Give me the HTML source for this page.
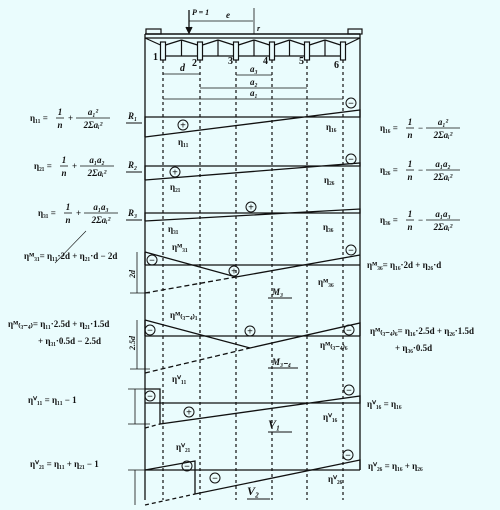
<!DOCTYPE html>
<html><head><meta charset="utf-8"><style>
html,body{margin:0;padding:0;background:#eafcfd;}
svg{display:block;font-family:"Liberation Serif",serif;font-weight:bold;}
</style></head><body>
<svg width="500" height="510" viewBox="0 0 500 510">
<rect width="500" height="510" fill="#eafcfd"/>
<g id="deck" stroke="#111" fill="none" stroke-width="1.2"></g>
<g id="main" stroke="#111" fill="none" stroke-width="1.3"></g>
<g id="txt" fill="#111" font-size="9"></g>
<script>
const girderX=[163,200,236,272,307,343];
const L=145,R=360;
const NS="http://www.w3.org/2000/svg";
const deck=document.getElementById('deck'),main=document.getElementById('main'),txt=document.getElementById('txt');
function el(p,tag,a){const e=document.createElementNS(NS,tag);for(const k in a)e.setAttribute(k,a[k]);p.appendChild(e);return e;}
function line(p,x1,y1,x2,y2,dash,w){const e=el(p,'line',{x1,y1,x2,y2});if(dash)e.setAttribute('stroke-dasharray',dash);if(w)e.setAttribute('stroke-width',w);return e;}
function poly(p,pts,dash){const e=el(p,'polyline',{points:pts.map(q=>q.join(',')).join(' ')});if(dash)e.setAttribute('stroke-dasharray',dash);return e;}
function t(x,y,s,size,anchor,style){const e=el(txt,'text',{x,y});e.textContent=s;if(size)e.setAttribute('font-size',size);if(anchor)e.setAttribute('text-anchor',anchor);if(style)e.setAttribute('font-style',style);return e;}
function frac(x,y,num,den,w){t(x+w/2,y-3,num,9,'middle','italic');line(main,x,y,x+w,y,null,0.8);t(x+w/2,y+10,den,9,'middle','italic');}
function formula(x,y,lhs,sign,num,den){t(x,y+3,lhs,9);const lw=lhs.length*5.2;frac(x+lw,y,'1','n',8);t(x+lw+12,y+3,sign,9);frac(x+lw+20,y,num,den,34);}
// deck
line(deck,L,34,R,34,null,1.6);
el(deck,'rect',{x:146,y:29,width:15,height:5});el(deck,'rect',{x:348,y:29,width:14,height:5});
line(deck,L,38,R,38);
for(let i=0;i<6;i++){const x=girderX[i];
 el(deck,'rect',{x:x-2.5,y:42,width:5,height:18,fill:'#eafcfd'});
 const lft=i==0?L:(girderX[i-1]+x)/2,rgt=i==5?R:(girderX[i+1]+x)/2;
 poly(deck,[[lft,i==0?38:40],[x-2.5,45]]);poly(deck,[[x+2.5,45],[rgt,i==5?38:40]]);
 if(i<5){line(deck,rgt,40,rgt,56);line(deck,x+2.5,56,girderX[i+1]-2.5,56);}
}
line(deck,L,34,L,500,null,1.3);line(deck,R,34,R,470,null,1.3);
[[153,60,'1'],[192,66,'2'],[228,64,'3'],[263,64,'4'],[299,64,'5'],[334,68,'6']].forEach(a=>t(a[0],a[1],a[2],10));
// load
line(main,189,10,189,31);el(main,'path',{d:'M186,27 L189,33 L192,27',fill:'#111'});
t(192,15,'P = 1',8,null,'italic');
line(main,189,21,253,21,null,0.8);line(main,254,8,254,34,null,0.8);t(226,18,'e',9,null,'italic');t(257,31,'r',8,null,'italic');
// dims
line(main,163,74,200,74,null,0.8);t(180,71,'d',10,null,'italic');
line(main,236,75,272,75,null,0.8);t(250,72,'a₃',9,null,'italic');
line(main,200,88,307,88,null,0.8);t(250,85,'a₂',9,null,'italic');
line(main,163,99,343,99,null,0.8);t(250,96,'a₁',9,null,'italic');
girderX.forEach(x=>line(main,x,60,x,500,'3,3',1.2));
// R1
poly(main,[[L,137],[L,117],[R,117],[R,110],[L,137]]);
poly(main,[[L,180],[L,166],[R,166],[R,163],[L,180]]);
poly(main,[[L,221],[L,213],[R,213],[R,209],[L,221]]);
// M3
poly(main,[[L,265],[R,265]]);poly(main,[[L,252],[236,277],[R,255]]);line(main,L,252,L,265);
line(main,L,293,236,277,'5,3');
line(main,137,252,137,293,null,0.8);line(main,130,293,150,293,null,0.8);t(135,278,'2d',8,null,'italic').setAttribute('transform','rotate(-90 135 278)');
// M3-4
poly(main,[[L,336],[R,336]]);poly(main,[[L,320],[250,348],[R,323],[R,336]]);line(main,L,320,L,336);
line(main,L,373,250,348,'5,3');
line(main,137,320,137,369,null,0.8);line(main,130,369,150,369,null,0.8);t(135,350,'2.5d',8,null,'italic').setAttribute('transform','rotate(-90 135 350)');
// V1
poly(main,[[L,389],[160,389],[160,424],[R,396],[R,403],[L,403]]);
line(main,L,428,160,424,'4,3');
line(main,135,389,135,424,null,0.8);line(main,128,424,150,424,null,0.8);line(main,128,389,145,389,null,0.8);
// V2
poly(main,[[L,470],[R,470]]);poly(main,[[L,470],[195,461],[195,494],[R,460],[R,470]]);
line(main,L,505,195,494,'4,3');
line(main,135,470,135,505,null,0.8);line(main,128,470,145,470,null,0.8);
const signs=[[183,125,'+'],[351,103,'−'],[175,172,'+'],[351,159,'−'],[251,207,'+'],[152,260,'−'],[234,271,'+'],[351,250,'−'],[150,330,'−'],[250,331,'+'],[349,330,'−'],[150,396,'−'],[189,412,'+'],[349,390,'−'],[187,466,'−'],[215,478,'−'],[348,455,'−']];
signs.forEach(s=>{const c=el(main,'circle',{cx:s[0],cy:s[1],r:5,'stroke-width':1});t(s[0],s[1]+3.5,s[2],10,'middle');});
[[178,145,'η₁₁'],[326,130,'η₁₆'],[170,190,'η₂₁'],[324,183,'η₂₆'],[168,232,'η₃₁'],[323,230,'η₃₆'],[172,250,'ηᴹ₃₁'],[318,285,'ηᴹ₃₆'],[170,318,'ηᴹ₍₃₋₄₎₁'],[320,348,'ηᴹ₍₃₋₄₎₆'],[172,382,'ηⱽ₁₁'],[323,420,'ηⱽ₁₆'],[176,450,'ηⱽ₂₁'],[328,482,'ηⱽ₂₆']].forEach(a=>t(a[0],a[1],a[2],9));
t(272,295,'M₃',9,null,'italic');line(main,268,298,292,298,null,1);
t(272,365,'M₃₋₄',9,null,'italic');line(main,268,368,298,368,null,1);
t(268,428,'V₁',12,null,'italic');line(main,268,432,292,432,null,1);
t(247,495,'V₂',12,null,'italic');line(main,247,499,270,499,null,1);
t(128,119,'R₁',9,null,'italic');line(main,126,123,142,123,null,1);
t(128,168,'R₂',9,null,'italic');line(main,126,172,142,172,null,1);
t(128,216,'R₃',9,null,'italic');line(main,126,220,142,220,null,1);
// left formulas
formula(30,118,'η₁₁ =','+','a₁²','2Σaᵢ²');
formula(34,166,'η₂₁ =','+','a₁a₂','2Σaᵢ²');
formula(38,213,'η₃₁ =','+','a₁a₃','2Σaᵢ²');
t(24,259,'ηᴹ₃₁= η₁₁·2d + η₂₁·d − 2d',9);
line(main,55,263,86,231,null,0.6);
t(8,327,'ηᴹ₍₃₋₄₎= η₁₁·2.5d + η₂₁·1.5d',9);
t(38,344,'+ η₃₁·0.5d − 2.5d',9);
t(28,403,'ηⱽ₁₁  = η₁₁ − 1',9);
t(30,467,'ηⱽ₂₁  = η₁₁ + η₂₁ − 1',9);
// right formulas
formula(380,128,'η₁₆ =','−','a₁²','2Σaᵢ²');
formula(380,170,'η₂₆ =','−','a₁a₂','2Σaᵢ²');
formula(380,220,'η₃₆ =','−','a₁a₃','2Σaᵢ²');
t(367,268,'ηᴹ₃₆= η₁₆·2d + η₂₆·d',9);
t(370,334,'ηᴹ₍₃₋₄₎₆= η₁₆·2.5d + η₂₆·1.5d',9);
t(395,351,'+ η₃₆·0.5d',9);
t(367,407,'ηⱽ₁₆  = η₁₆',9);
t(368,469,'ηⱽ₂₆  = η₁₆ + η₂₆',9);
</script>
</svg>
</body></html>
